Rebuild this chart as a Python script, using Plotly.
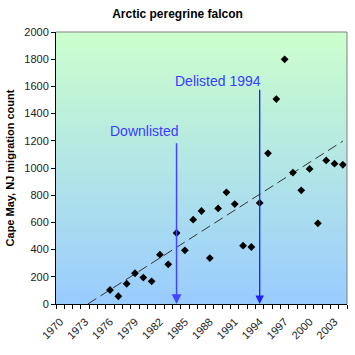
import base64
import numpy as np
import plotly.graph_objects as go

# ---- data ----
years = [1976, 1977, 1978, 1979, 1980, 1981, 1982, 1983, 1984, 1985,
         1986, 1987, 1988, 1989, 1990, 1991, 1992, 1993, 1994, 1995,
         1996, 1997, 1998, 1999, 2000, 2001, 2002, 2003, 2004]
counts = [103, 57, 149, 226, 194, 167, 363, 292, 522, 395,
          620, 684, 338, 703, 821, 735, 429, 419, 743, 1108,
          1507, 1799, 966, 836, 993, 593, 1056, 1032, 1024]
tick_years = [1970, 1973, 1976, 1979, 1982, 1985, 1988, 1991, 1994, 1997, 2000, 2003]
events = [("Downlisted", 1984, 1193, 1272), ("Delisted 1994", 1994, 1586, 1643)]

# ---- trendline (linear least squares) ----
slope, intercept = np.polyfit(years, counts, 1)
x0 = -intercept / slope
trend_x = [x0, years[-1]]
trend_y = [slope * x + intercept for x in trend_x]

fig = go.Figure()
fig.add_trace(go.Scatter(x=trend_x, y=trend_y, mode="lines",
                         line=dict(color="#333333", width=1, dash="10px,5px"),
                         hoverinfo="skip", showlegend=False))
fig.add_trace(go.Scatter(x=years, y=counts, mode="markers",
                         marker=dict(symbol="diamond", size=6, color="black"),
                         showlegend=False))

# gradient background
svg = ('<svg xmlns="http://www.w3.org/2000/svg" width="100" height="100" preserveAspectRatio="none">'
       '<defs><linearGradient id="g" x1="0" y1="0" x2="0" y2="1">'
       '<stop offset="0" stop-color="#CCFFCC"/><stop offset="1" stop-color="#99CCFF"/>'
       '</linearGradient></defs><rect width="100" height="100" fill="url(#g)"/></svg>')
src = "data:image/svg+xml;base64," + base64.b64encode(svg.encode()).decode()
fig.add_layout_image(dict(source=src, xref="paper", yref="paper", x=0, y=1,
                          sizex=1, sizey=1, sizing="stretch", layer="below",
                          xanchor="left", yanchor="top"))

# plot area border (top/right gray)
fig.add_shape(type="line", xref="paper", yref="paper", x0=0, x1=1, y0=1, y1=1,
              line=dict(color="#808080", width=1))
fig.add_shape(type="line", xref="paper", yref="paper", x0=1, x1=1, y0=0, y1=1,
              line=dict(color="#808080", width=1))

arrow_styles = [("#4545FF", 1.5), ("#1E1EFF", 1.3)]
for (label, yr, top, ty), (col, w) in zip(events, arrow_styles):
    fig.add_annotation(x=yr, y=0, ax=yr, ay=top, axref="x", ayref="y",
                       xref="x", yref="y", text="", showarrow=True,
                       arrowhead=2, arrowsize=1.3, arrowwidth=w, arrowcolor=col,
                       standoff=0, startstandoff=0)
    fig.add_annotation(x=yr, y=ty, xref="x", yref="y", text=label, showarrow=False,
                       xanchor="right", yanchor="middle", xshift=3,
                       font=dict(family="Liberation Sans, Arial", size=14, color="#3C3CFF"))

fig.update_layout(
    width=355, height=355,
    margin=dict(l=56, r=8, t=32, b=51),
    paper_bgcolor="white", plot_bgcolor="rgba(0,0,0,0)",
    font=dict(family="Liberation Sans, Arial", size=11, color="black"),
    title=dict(text="<b>Arctic peregrine falcon</b>", x=0.5, xanchor="center",
               y=1 - 14 / 355, yanchor="middle", font=dict(size=12)),
    xaxis=dict(range=[1969.5, 2004.5], tickmode="array", tickvals=tick_years,
               ticks="", tickangle=-45, showgrid=False, zeroline=False,
               showline=True, linecolor="black", linewidth=1,
               tickfont=dict(size=11, color="#222222"), automargin=False,
               ticklabelstandoff=6,
               minor=dict(ticks="outside", tick0=1969.5, dtick=1, ticklen=4,
                          tickcolor="black", showgrid=False)),
    yaxis=dict(range=[0, 2000], dtick=200, ticks="outside", ticklen=4,
               tickcolor="black", showgrid=False, zeroline=False,
               showline=True, linecolor="black", linewidth=1,
               tickfont=dict(size=11, color="#222222"), automargin=False,
               title=dict(text="<b>Cape May, NJ migration count</b>",
                          font=dict(size=11), standoff=7)),
)

fig.write_html("out.html", config={"displayModeBar": False},
               post_script="document.body.style.margin='0';document.body.style.overflow='hidden';")
